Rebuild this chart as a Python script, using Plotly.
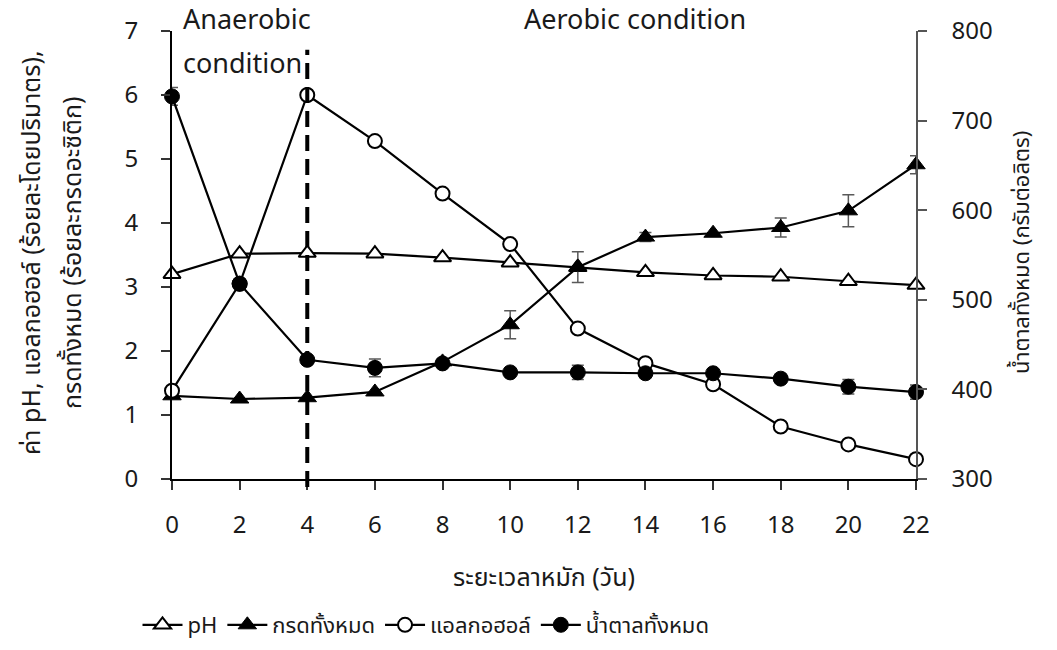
import plotly.graph_objects as go

days = [0, 2, 4, 6, 8, 10, 12, 14, 16, 18, 20, 22]
ph = [3.20, 3.52, 3.53, 3.52, 3.46, 3.38, 3.31, 3.23, 3.18, 3.16, 3.09, 3.03]
acid = [1.30, 1.25, 1.27, 1.36, 1.83, 2.41, 3.31, 3.78, 3.84, 3.93, 4.19, 4.91]
acid_err = [0, 0, 0, 0, 0, 0.22, 0.24, 0.07, 0, 0.15, 0.25, 0.14]
alcohol = [1.38, 3.05, 6.00, 5.28, 4.46, 3.67, 2.35, 1.81, 1.48, 0.82, 0.54, 0.31]
sugar = [727, 518, 433, 424, 429, 419, 419, 418, 418, 412, 403, 397]
sugar_err = [10, 0, 0, 10, 0, 0, 8, 5, 0, 0, 8, 8]

names = ["pH", "กรดทั้งหมด", "แอลกอฮอล์", "น้ำตาลทั้งหมด"]
x_ticks = [0, 2, 4, 6, 8, 10, 12, 14, 16, 18, 20, 22]

FONT = "Noto Sans Thai, Leelawadee UI, Tahoma, Open Sans, Noto Sans, sans-serif"
ERR = "#595959"
TXT = "#1a1a1a"

fig = go.Figure()
fig.add_trace(go.Scatter(
    x=days, y=ph, name=names[0], mode="lines+markers", cliponaxis=False,
    line=dict(color="black", width=2.2),
    marker=dict(symbol="triangle-up", size=15, color="white",
                line=dict(color="black", width=2)),
))
fig.add_trace(go.Scatter(
    x=days, y=acid, name=names[1], mode="lines+markers", cliponaxis=False,
    line=dict(color="black", width=2.2),
    marker=dict(symbol="triangle-up", size=16, color="black",
                line=dict(color="black", width=1)),
    error_y=dict(type="data", array=acid_err, color=ERR, thickness=1.5, width=6),
))
fig.add_trace(go.Scatter(
    x=days, y=alcohol, name=names[2], mode="lines+markers", cliponaxis=False,
    line=dict(color="black", width=2.2),
    marker=dict(symbol="circle", size=14, color="white",
                line=dict(color="black", width=2)),
))
fig.add_trace(go.Scatter(
    x=days, y=sugar, name=names[3], mode="lines+markers", yaxis="y2", cliponaxis=False,
    line=dict(color="black", width=2.2),
    marker=dict(symbol="circle", size=15, color="black",
                line=dict(color="black", width=1)),
    error_y=dict(type="data", array=sugar_err, color=ERR, thickness=1.5, width=6),
))

fig.add_shape(type="line", xref="x", yref="paper", x0=4, x1=4, y0=-0.018, y1=0.958,
              line=dict(color="black", width=4, dash="16px,8px"))

ann = dict(showarrow=False, font=dict(family=FONT, size=27, color=TXT))
fig.add_annotation(text="Anaerobic", xref="paper", yref="paper",
                   x=(181 - 172) / 744, y=(479 - 20) / 448, xanchor="left", yanchor="middle", **ann)
fig.add_annotation(text="condition", xref="paper", yref="paper",
                   x=(181 - 172) / 744, y=(479 - 65) / 448, xanchor="left", yanchor="middle", **ann)
fig.add_annotation(text="Aerobic condition", xref="paper", yref="paper",
                   x=(635 - 172) / 744, y=(479 - 20) / 448, xanchor="center", yanchor="middle", **ann)

fig.add_annotation(text="ระยะเวลาหมัก (วัน)", xref="paper", yref="paper",
                   x=0.5, y=(479 - 578) / 448, xanchor="center", yanchor="middle",
                   showarrow=False, font=dict(family=FONT, size=25, color=TXT))
fig.add_annotation(text="ค่า pH, แอลกอฮอล์ (ร้อยละโดยปริมาตร),", xref="paper", yref="paper",
                   x=(32 - 172) / 744, y=(479 - 253) / 448, xanchor="center", yanchor="middle",
                   textangle=-90, showarrow=False, font=dict(family=FONT, size=25, color=TXT))
fig.add_annotation(text="กรดทั้งหมด (ร้อยละกรดอะซิติก)", xref="paper", yref="paper",
                   x=(73 - 172) / 744, y=(479 - 253) / 448, xanchor="center", yanchor="middle",
                   textangle=-90, showarrow=False, font=dict(family=FONT, size=25, color=TXT))
fig.add_annotation(text="น้ำตาลทั้งหมด (กรัมต่อลิตร)", xref="paper", yref="paper",
                   x=(1022 - 172) / 744, y=(479 - 253) / 448, xanchor="center", yanchor="middle",
                   textangle=-90, showarrow=False, font=dict(family=FONT, size=22, color=TXT))

tickfont = dict(family=FONT, size=24, color=TXT)
fig.update_layout(
    width=1057, height=650,
    margin=dict(l=172, r=141, t=31, b=171, autoexpand=False),
    paper_bgcolor="white", plot_bgcolor="white",
    font=dict(family=FONT, size=20, color=TXT),
    showlegend=True,
    legend=dict(orientation="h", x=(426 - 172) / 744, xanchor="center",
                yref="container", y=1 - 625 / 650, yanchor="middle",
                font=dict(family=FONT, size=22, color=TXT),
                itemwidth=40, tracegroupgap=0),
    xaxis=dict(range=[0, 22], tickvals=x_ticks, ticktext=[str(v) for v in x_ticks],
               showgrid=False, zeroline=False, showline=True, linecolor="black", linewidth=2,
               ticks="outside", ticklen=9, tickwidth=1.5, tickcolor="#333",
               ticklabelstandoff=14, tickfont=tickfont),
    yaxis=dict(range=[0, 7], tickvals=[0, 1, 2, 3, 4, 5, 6, 7],
               showgrid=False, zeroline=False, showline=True, linecolor="black", linewidth=2,
               ticks="outside", ticklen=9, tickwidth=1.5, tickcolor="#333",
               ticklabelstandoff=18, tickfont=tickfont),
    yaxis2=dict(range=[300, 800], tickvals=[300, 400, 500, 600, 700, 800],
                overlaying="y", side="right",
                showgrid=False, zeroline=False, showline=True, linecolor="#555", linewidth=1.5,
                ticks="outside", ticklen=9, tickwidth=1.5, tickcolor="#555",
                ticklabelstandoff=20, tickfont=tickfont),
)

fig.write_html("out.html")
